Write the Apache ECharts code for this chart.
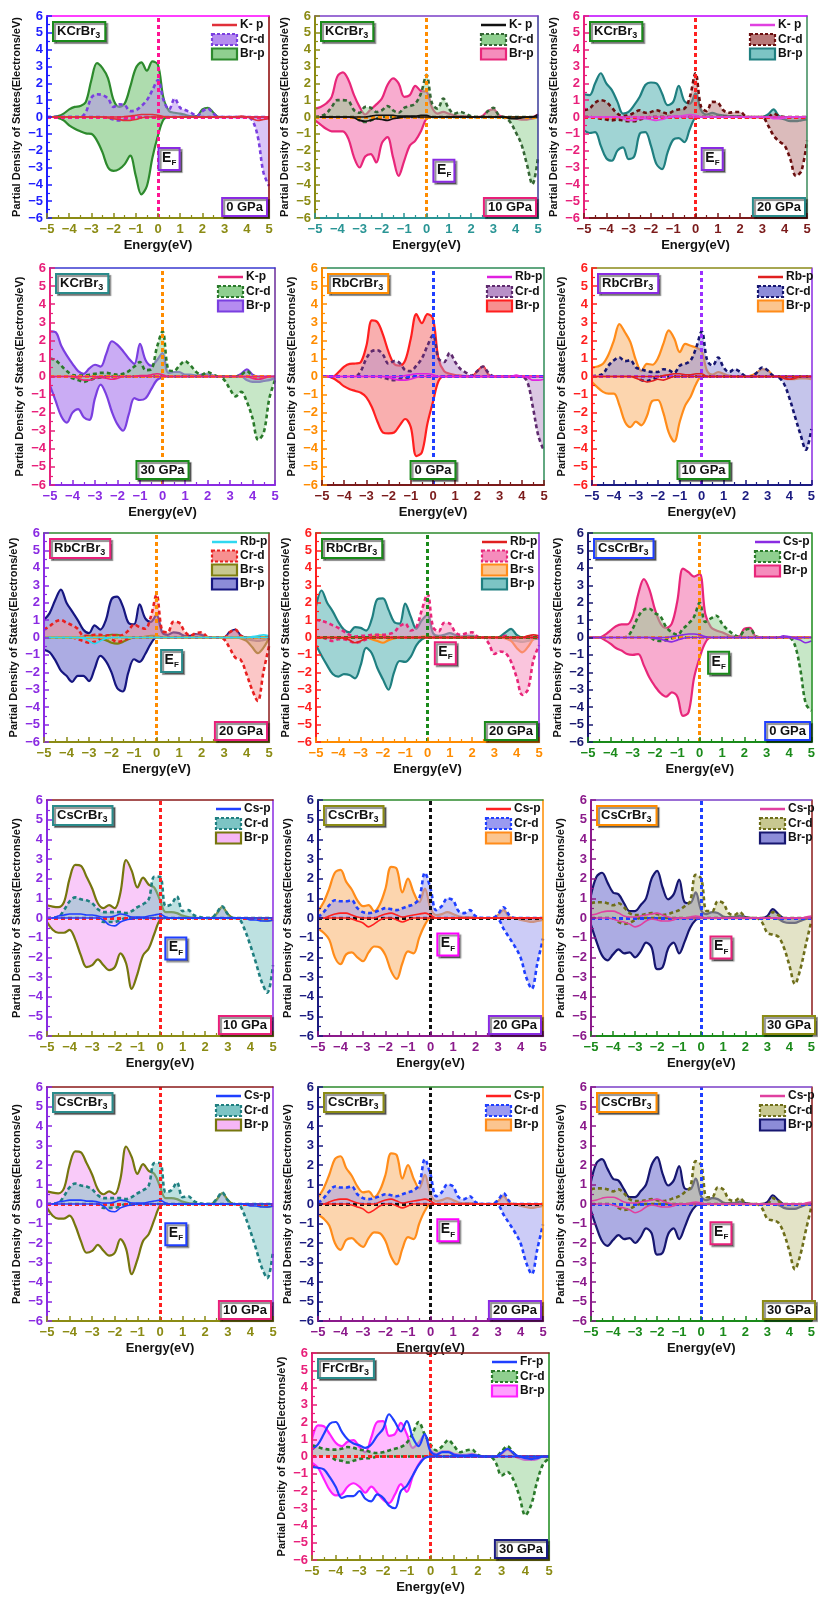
<!DOCTYPE html>
<html>
<head>
<meta charset="utf-8">
<script src="https://cdn.jsdelivr.net/npm/echarts/dist/echarts.min.js"></script>
<style>
html,body{margin:0;padding:0;background:#fff}
#chart{width:818px;height:1603px}
</style>
</head>
<body>
<div id="chart"></div>
<script>
// Energy grid (eV) shared by every PDOS curve
const energy = [-5,-4.75,-4.5,-4.25,-4,-3.75,-3.5,-3.25,-3,-2.75,-2.5,-2.25,-2,-1.75,-1.5,-1.25,-1,-0.75,-0.5,-0.25,0,0.25,0.5,0.75,1,1.25,1.5,1.75,2,2.25,2.5,2.75,3,3.25,3.5,3.75,4,4.25,4.5,4.75,5];
const energyTicks = ['\u22125','\u22124','\u22123','\u22122','\u22121','0','1','2','3','4','5'];
const dosTicks = ['\u22126','\u22125','\u22124','\u22123','\u22122','\u22121','0','1','2','3','4','5','6'];

// KCrBr3, 0 GPa
const K0_Kp_up  = [0,0,0,0,0,0,0,0,0, 0,0,0,0,0,0.02,0.05,0.1, 0.15,0.15,0.15,0.1,0.03,0,0,0, 0,0,0,0,0,0,0,0, 0,0,0.05,0,0,0,0,0];
const K0_Kp_dn  = [0,0,0,0,0,0,0,0,0, 0,0,-0.05,-0.1,-0.15,-0.2,-0.2,-0.15, -0.05,0,0,0,0,0,0,0, 0,0,0,0,0,0,0,0, 0,0,0,0,-0.1,-0.2,-0.15,-0.1];
const K0_Crd_up = [0,0,0,0,0,0,0,0.3,1.15, 1.35,1.3,1.1,0.6,0.75,0.7,0.35,0.4, 0.65,1.0,1.6,2.2,1.0,0.45,1.1,0.55, 0.4,0.25,0.05,0.35,0.5,0.2,0,0, 0,0,0,0,0,0,0,0];
const K0_Crd_dn = [0,0,0,0,0,0,0,0,0, 0,0,-0.05,-0.15,-0.2,-0.15,-0.1,-0.05, 0,0,0,0,0,0,0,0, 0,0,0,0,0,0,0,0, 0,0,0,0,-0.2,-1.2,-3.3,-4.1];
const K0_Brp_up = [0,0,0.05,0.2,0.45,0.6,0.65,0.9,2.2, 3.2,2.9,2.3,1.0,0.6,0.8,1.8,2.9, 3.25,2.75,3.3,3.1,1.1,0.35,0.25,0.2, 0.12,0.05,0.05,0.45,0.55,0.25,0,0, 0,0,0,0,0,0,0,0];
const K0_Brp_dn = [0,0,-0.05,-0.2,-0.5,-0.7,-0.85,-0.97,-1.0, -1.4,-2.1,-3.0,-3.2,-3.1,-2.8,-2.3,-3.5, -4.6,-4.1,-2.4,-1.1,-0.15,0,0,0, 0,0,0,0,0,0,0,0, 0,0,0,0,0,0,0,0];

// KCrBr3, 10 GPa
const K10_Kp_up  = [0,0,0,0,0,0,0,0,0, 0,0.05,0.1,0.1,0.1,0.1,0.05,0.05, 0.05,0.05,0.1,0.1,0,0,0,0, 0,0,0,0,0,0,0,0, 0,0,0,0,0,0,0,0.15];
const K10_Kp_dn  = [0,0,0,0,0,0,0,-0.05,-0.2, -0.25,-0.2,-0.1,-0.15,-0.2,-0.1,-0.05,0, 0,0,0,0,0,0,0,0, 0,0,0,0,0,0,0,0, 0,0,-0.1,-0.1,-0.05,0,0,0];
const K10_Crd_up = [0,0.05,0.2,0.6,1.0,1.0,0.95,0.4,0.25, 0.6,0.55,0.3,0.4,0.65,0.4,0.25,0.55, 0.65,0.8,1.4,2.5,0.8,0.5,1.1,0.5, 0.2,0.3,0.2,0.05,0,0,0.35,0.55, 0.1,0,0,0,0,0,0,0];
const K10_Crd_dn = [0,0,0,0,0,0,0,0,-0.2, -0.3,-0.2,-0.1,0,0,0,0,0, 0,0,0,0,0,0,0,0, 0,0,0,0,0,0,0,0, 0,-0.05,-0.3,-0.9,-1.6,-2.8,-4.0,-2.4];
const K10_Brp_up = [0.5,0.6,0.8,1.2,2.4,2.65,2.2,1.3,0.6, 0.15,0.45,0.75,1.1,1.9,2.3,2.0,1.2, 1.3,1.85,1.55,1.5,0.55,0.2,0.3,0.2, 0.1,0.05,0.05,0,0,0.05,0.35,0.45, 0.1,0,0,0,0,0,0,0.15];
const K10_Brp_dn = [-0.2,-0.45,-0.7,-0.85,-0.85,-0.85,-1.3,-2.4,-3.0, -2.35,-2.2,-2.7,-1.55,-1.2,-2.4,-3.5,-2.6, -1.7,-1.4,-0.85,-0.1,0,0,0,0, 0,0,0,0,0,0,0,0, 0,0,-0.05,-0.1,-0.15,-0.15,-0.1,0];

// KCrBr3, 20 GPa
const K20_Kp_up  = [0,0,0,0,0,0,0,0,0, 0,0,0,0,0,0,0,0.05, 0.05,0.1,0.15,0.1,0,0,0,0, 0,0,0,0,0,0,0,0, 0,0,0,0,0,0,0,0];
const K20_Kp_dn  = [0,0,0,0,0,0,0,-0.1,-0.2, -0.2,-0.1,-0.1,-0.15,-0.2,-0.15,-0.05,0, 0,0,0,0,0,0,0,0, 0,0,0,0,0,0,0,0, 0,-0.1,-0.1,-0.05,0,0,0,0];
const K20_Crd_up = [0.4,0.5,0.85,1.0,0.9,0.55,0.2,0.05,0.1, 0.25,0.4,0.25,0.3,0.4,0.3,0.2,0.35, 0.45,0.5,1.2,2.6,0.6,0.35,0.9,0.85, 0.4,0.25,0.3,0.3,0.05,0,0,0, 0,0.2,0.05,0,0,0,0,0];
const K20_Crd_dn = [0,0,-0.05,-0.1,-0.15,-0.2,-0.15,-0.2,-0.25, -0.25,-0.15,-0.05,0,0,0,0,0, 0,0,0,0,0,0,0,0, 0,0,0,0,0,0,0,0, -0.5,-1.1,-1.45,-1.7,-2.5,-3.5,-3.2,-1.4];
const K20_Brp_up = [1.35,1.3,2.0,2.6,2.0,1.6,0.9,0.2,0.3, 0.7,1.2,1.9,2.05,2.0,1.4,0.7,0.9, 1.85,0.95,0.8,1.4,0.4,0.15,0.25,0.15, 0.1,0.05,0.05,0.05,0,0,0,0, 0.15,0.45,0.05,0,0,0,0,0];
const K20_Brp_dn = [-0.8,-0.95,-0.9,-1.7,-2.45,-2.6,-2.0,-1.8,-2.5, -2.35,-1.0,-0.9,-1.7,-2.8,-3.1,-2.1,-1.35, -1.25,-1.5,-0.7,-0.05,0,0,0,0, 0,0,0,0,0,0,0,0, 0,0,-0.05,-0.15,-0.25,-0.25,-0.2,-0.15];

// KCrBr3, 30 GPa
const K30_Kp_up  = [0,0,0,0,0,0,0,0,0, 0,0,0,0,0,0,0,0.05, 0.05,0.1,0.15,0.1,0,0,0,0, 0,0,0,0,0,0,0,0, 0,0,0,0,0,0,0,0];
const K30_Kp_dn  = [0,0,0,0,0,-0.1,-0.2,-0.2,-0.1, -0.05,-0.1,-0.15,-0.1,0,0,0,0, 0,0,0,0,0,0,0,0, 0,0,0,0,0,0,0,0, 0,0,0,-0.1,-0.15,-0.1,0,0];
const K30_Crd_up = [1.0,0.9,0.6,0.3,0.08,0.05,0.05,0.1,0.15, 0.2,0.2,0.15,0.1,0.15,0.3,0.55,0.8, 0.35,0.4,1.6,2.5,0.4,0.3,0.6,0.85, 0.6,0.25,0.1,0.25,0.1,0,0,0, 0,0.1,0.3,0.05,0,0,0,0];
const K30_Crd_dn = [0,0,0,0,-0.1,-0.2,-0.3,-0.2,-0.1, -0.05,0,0,0,0,0,0,0, 0,0,0,0,0,0,0,0, 0,0,0,0,0,0,-0.2,-0.7, -1.1,-0.85,-1.4,-2.3,-3.5,-3.1,-1.2,-0.2];
const K30_Brp_up = [2.5,2.45,1.7,1.15,0.7,0.3,0.15,0.45,0.65, 0.55,1.25,1.95,1.75,1.4,1.0,0.7,1.8, 0.9,0.6,0.9,1.3,0.2,0.25,0.25,0.1, 0.1,0.05,0.1,0.12,0.05,0,0,0, 0,0.15,0.4,0.1,0,0,0,0];
const K30_Brp_dn = [-0.5,-1.35,-2.2,-2.55,-2.0,-1.8,-2.25,-2.4,-1.2, -0.45,-1.0,-1.95,-2.65,-3.0,-2.1,-1.2,-1.3, -1.2,-0.7,-0.2,-0.05,0,0,0,0, 0,0,0,0,0,0,0,0, 0,0,-0.2,-0.3,-0.3,-0.25,-0.2,-0.1];

// RbCrBr3, 0 GPa
const Rb0_Rbp_up = [0,0,0,0,0,0,0,0,0, 0,0,0,0,0,0,0.05,0.1, 0.15,0.15,0.15,0.1,0,0,0,0, 0,0,0,0,0,0,0,0, 0,0,0.08,0,0,0,0,0];
const Rb0_Rbp_dn = [0,0,0,0,0,0,0,0,0, 0,0,0,-0.05,-0.15,-0.2,-0.2,-0.15, -0.05,0,0,0,0,0,0,0, 0,0,0,0,0,0,0,0, 0,0,0,0,-0.05,-0.2,-0.2,-0.15];
const Rb0_Crd_up = [0,0,0,0,0,0,0,0.3,1.0, 1.4,1.45,1.2,0.7,0.85,0.75,0.35,0.3, 0.6,1.0,1.7,2.3,1.0,0.8,1.3,0.8, 0.4,0.2,0.05,0.3,0.55,0.2,0,0, 0,0,0,0,0,0,0,0];
const Rb0_Crd_dn = [0,0,0,0,0,0,0,0,0, 0,0,-0.05,-0.15,-0.2,-0.15,-0.1,-0.05, 0,0,0,0,0,0,0,0, 0,0,0,0,0,0,0,0, 0,0,0,0,-0.3,-1.7,-3.3,-4.1];
const Rb0_Brp_up = [0,0,0,0.25,0.55,0.7,0.72,0.8,1.7, 3.1,3.0,2.3,1.35,0.7,0.6,0.9,2.1, 3.45,2.95,3.45,3.2,0.95,0.3,0.15,0.08, 0.05,0.02,0.02,0.3,0.55,0.1,0,0, 0,0,0,0,0,0,0,0];
const Rb0_Brp_dn = [0,0,-0.1,-0.3,-0.55,-0.7,-0.8,-0.9,-1.15, -1.7,-2.5,-3.1,-3.15,-3.1,-2.7,-2.35,-2.8, -4.4,-4.2,-2.6,-1.4,-0.25,0,0,0, 0,0,0,0,0,0,0,0, 0,0,0,0,0,0,0,0];

// RbCrBr3, 10 GPa
const Rb10_Rbp_up = [0,0,0,0,0,0,0,0,0, 0,0,0,0,0.05,0.1,0.15,0.15, 0.1,0.1,0.15,0.15,0,0,0,0, 0,0,0,0,0,0,0,0, 0,0,0,0,0,0,0,0];
const Rb10_Rbp_dn = [0,0,0,0,0,0,0,0,-0.1, -0.2,-0.3,-0.25,-0.15,-0.2,-0.1,0,0, 0,0,0,0,0,0,0,0, 0,0,0,0,0,0,0,0, 0,0,-0.1,-0.15,-0.1,0,0,0];
const Rb10_Crd_up = [0,0.05,0.15,0.6,0.9,1.05,0.85,0.9,0.5, 0.4,0.3,0.25,0.25,0.4,0.35,0.2,0.6, 0.7,0.9,1.6,2.5,0.9,0.6,1.05,0.5, 0.25,0.4,0.25,0.02,0,0.2,0.5,0.35, 0.05,0,0,0,0,0,0,0];
const Rb10_Crd_dn = [0,0,0,0,0,0,0,0,0, -0.2,-0.25,-0.15,-0.05,0,0,0,0, 0,0,0,0,0,0,0,0, 0,0,0,0,0,0,0,0, 0,-0.05,-0.4,-1.2,-2.2,-3.2,-4.05,-2.9];
const Rb10_Brp_up = [0.5,0.55,0.7,1.2,2.0,2.9,2.45,1.9,0.9, 0.3,0.7,0.65,1.0,1.8,2.55,2.1,1.35, 1.8,1.7,1.6,1.4,0.3,0.1,0.25,0.15, 0.05,0.02,0,0,0.05,0.2,0.4,0.35, 0.05,0,0,0,0,0,0,0];
const Rb10_Brp_dn = [-0.3,-0.6,-0.85,-0.95,-0.95,-1.6,-2.5,-2.8,-2.5, -2.7,-2.2,-1.35,-1.3,-2.0,-3.1,-3.6,-2.5, -1.6,-1.1,-0.4,0,0,0,0,0, 0,0,0,0,0,0,0,0, 0,0,-0.1,-0.15,-0.15,-0.1,-0.1,-0.15];

// RbCrBr3, 20 GPa (first set)
const Rb20a_Rbp_up = [0,0,0,0,0,0,0,0,0, 0,0,0,0,0,0,0,0, 0,0,0,0,0,0,0,0, 0,0,0,0,0,0,0,0, 0,0,0,0,0.05,0.1,0.15,0.1];
const Rb20a_Rbp_dn = [0,0,0,0,0,0,0,-0.05,-0.2, -0.35,-0.2,-0.05,0,0,0,0,0, 0,0,0,0,0,0,0,0, 0,0,0,0,0,0,0,0, 0,0,0,0,0,0,0,0];
const Rb20a_Crd_up = [0.45,0.65,0.9,1.0,0.85,0.7,0.5,0.1,0.1, 0.15,0.15,0.1,0.15,0.1,0.15,0.4,0.75, 0.6,0.5,1.2,2.45,0.4,0.3,0.9,0.85, 0.35,0.1,0.25,0.3,0.05,0,0,0, 0.3,0.45,0.1,0,0,0,0,0];
const Rb20a_Crd_dn = [0,0,0,0,0,0,-0.1,-0.2,-0.3, -0.25,-0.1,0,-0.1,-0.25,-0.2,-0.05,0, 0,0,0,0,0,0,0,0, 0,0,0,0,0,0,0,-0.1, -0.6,-1.15,-1.3,-2.1,-3.0,-3.65,-2.0,-0.5];
const Rb20a_Brs_up = [0,0,0,0,0,0,0,0.05,0.1, 0.1,0.05,0.1,0.15,0.15,0.05,0,0, 0,0.05,0.1,0.1,0,0,0,0, 0,0,0,0,0,0,0,0, 0,0,0,0,0,0,0,0];
const Rb20a_Brs_dn = [0,0,0,0,0,0,0,0,0, 0,-0.05,-0.15,-0.3,-0.35,-0.25,-0.1,0, 0,0,0,0,0,0,0,0, 0,0,0,0,0,0,0,0, 0,0,-0.05,-0.2,-0.55,-0.9,-0.6,-0.05];
const Rb20a_Brp_up = [1.0,1.4,2.15,2.75,2.0,1.5,1.0,0.45,0.25, 0.7,0.45,1.0,2.2,2.35,1.8,0.85,0.75, 1.9,1.1,0.9,1.3,0.3,0.15,0.3,0.25, 0.1,0.1,0.2,0.15,0.02,0,0,0, 0.3,0.45,0.1,0,0,0,0,0];
const Rb20a_Brp_dn = [-0.7,-0.85,-1.3,-1.9,-2.2,-2.55,-2.2,-2.2,-2.5, -1.8,-1.05,-1.35,-2.0,-2.9,-3.1,-2.0,-1.25, -1.4,-0.95,-0.35,0,0,0,0,0, 0,0,0,0,0,0,0,0, 0,0,0,-0.1,-0.15,-0.2,-0.15,-0.1];

// RbCrBr3, 20 GPa (second set)
const Rb20b_Rbp_up = [0,0,0,0,0,0,0,0,0, 0,0,0,0,0,0,0,0, 0,0,0,0,0,0,0,0, 0,0,0,0,0,0,0,0, 0,0,0,0,0,0.1,0.15,0.1];
const Rb20b_Rbp_dn = [0,0,0,0,0,-0.05,-0.15,-0.3,-0.2, -0.05,0,0,0,0,0,0,0, 0,0,0,0,0,0,0,0, 0,0,0,0,0,0,0,0, 0,0,0,0,0,0,0,0];
const Rb20b_Crd_up = [1.0,0.95,0.85,0.7,0.55,0.35,0.15,0.05,0.1, 0.1,0.15,0.15,0.15,0.2,0.3,0.65,0.8, 0.4,0.6,1.6,2.5,0.6,0.35,0.85,0.8, 0.3,0.15,0.25,0.3,0.05,0,0,0, 0,0.1,0,0,0,0,0,0];
const Rb20b_Crd_dn = [0,0,-0.1,-0.2,-0.1,-0.1,-0.2,-0.3,-0.25, -0.1,0,0,0,0,0,0,0, 0,0,0,0,0,0,0,0, 0,0,0,0,0,0,-0.35,-0.95, -0.8,-0.9,-1.4,-2.3,-3.3,-3.0,-1.3,-0.45];
const Rb20b_Brs_up = [0,0,0,0,0,0,0,0,0, 0,0.05,0.15,0.1,0.05,0,0,0, 0,0,0.05,0.1,0,0,0,0, 0,0,0,0,0,0,0,0, 0,0,0,0,0,0,0,0];
const Rb20b_Brs_dn = [0,0,0,0,0,0,0,0,0, 0,-0.1,-0.2,-0.3,-0.15,-0.05,0,0, 0,0,0,0,0,0,0,0, 0,0,0,0,0,0,0,0, 0,-0.05,-0.2,-0.6,-0.85,-0.55,-0.1,0];
const Rb20b_Brp_up = [1.8,2.7,2.0,1.5,0.9,0.45,0.3,0.6,0.55, 0.4,1.05,2.2,2.25,1.6,0.9,0.8,1.95, 1.2,0.5,1.0,1.3,0.25,0.1,0.15,0.25, 0.15,0.05,0.1,0.1,0,0,0,0, 0.05,0.3,0.5,0.15,0,0,0,0];
const Rb20b_Brp_dn = [-0.45,-1.05,-1.6,-2.1,-2.25,-2.1,-2.15,-2.35,-1.6, -0.6,-0.9,-1.75,-2.4,-3.0,-2.0,-1.35,-1.4, -1.1,-0.45,-0.1,0,0,0,0,0, 0,0,0,0,0,0,0,0, 0,0,-0.15,-0.2,-0.25,-0.2,-0.1,-0.05];

// CsCrBr3, 0 GPa
const Cs0_Csp_up = [0,0,0,0,0,0,0,0,0, 0,0,0,0,0,0,0.05,0.1, 0.15,0.2,0.2,0.15,0.05,0,0,0, 0,0,0,0,0,0,0,0, 0,0,0.1,0.05,0,0,0,0];
const Cs0_Csp_dn = [0,0,0,0,0,0,0,0,0, 0,0,0,-0.05,-0.1,-0.2,-0.25,-0.15, -0.05,0,0,0,0,0,0,0, 0,0,0,0,0,0,0,0, 0,0,0,0,-0.05,-0.15,-0.3,-0.2];
const Cs0_Crd_up = [0,0,0,0,0,0,0,0.05,0.5, 1.2,1.6,1.65,1.4,1.2,0.6,0.3,0.15, 0.5,0.8,1.2,2.0,0.9,1.1,1.25,0.8, 0.45,0.2,0.05,0.4,0.5,0.1,0,0, 0,0,0,0,0,0,0,0];
const Cs0_Crd_dn = [0,0,0,0,0,0,0,0,0, 0,0,0,-0.15,-0.2,-0.15,-0.05,0, 0,0,0,0,0,0,0,0, 0,0,0,0,0,0,0,0, 0,0,0,0,-0.4,-1.8,-3.8,-4.2];
const Cs0_Brp_up = [0,0,0,0.15,0.4,0.65,0.75,0.75,1.2, 2.5,3.35,2.75,1.6,0.8,0.55,0.8,2.1, 3.95,3.75,3.5,3.65,1.35,0.6,0.4,0.3, 0.15,0.05,0.05,0.5,0.55,0.05,0,0, 0,0,0,0,0,0,0,0];
const Cs0_Brp_dn = [0,0,0,-0.15,-0.35,-0.6,-0.75,-0.95,-1.0, -0.95,-1.6,-2.3,-2.8,-3.2,-3.4,-3.15,-3.4, -4.5,-4.3,-2.3,-1.15,-0.3,0,0,0, 0,0,0,0,0,0,0,0, 0,0,0,0,0,0,0,0];

// CsCrBr3, 10 GPa
const Cs10_Csp_up = [0,0,0.1,0.15,0.2,0.2,0.2,0.15,0.15, 0.1,0.05,0.05,0.1,0.2,0.15,0.05,0.05, 0.05,0.1,0.15,0.2,0.05,0,0,0, 0,0,0,0,0,0,0,0, 0,0,0,0,0,0,0,0];
const Cs10_Csp_dn = [0,0,0,0,0,0,0,0,0, 0,-0.1,-0.35,-0.4,-0.2,-0.1,-0.05,0, 0,0,0,0,0,0,0,0, 0,0,0,0,0,0,0,0, 0,0,0,-0.1,-0.1,-0.15,-0.15,-0.1];
const Cs10_Crd_up = [0,0.02,0.05,0.4,0.85,1.05,0.95,0.9,0.75, 0.45,0.3,0.3,0.3,0.3,0.25,0.35,0.55, 0.7,0.95,2.1,2.1,0.6,0.7,1.1,0.35, 0.4,0.15,0.05,0,0,0.25,0.6,0.2, 0,0,0,0,0,0,0,0];
const Cs10_Crd_dn = [0,0,0,0,0,0,0,0,0, 0,-0.2,-0.2,-0.2,-0.1,0,0,0, 0,0,0,0,0,0,0,0, 0,0,0,0,0,0,0,0, 0,-0.05,-0.6,-1.4,-2.3,-3.25,-3.8,-2.4];
const Cs10_Brp_up = [0.65,0.58,0.55,0.8,2.0,2.7,2.65,2.1,1.5, 0.75,0.5,0.65,0.5,1.3,2.95,2.4,1.55, 2.05,1.7,1.55,0.9,0.3,0.3,0.25,0.12, 0.05,0.02,0,0,0,0.2,0.55,0.2, 0,0,0,0,0,0,0,0];
const Cs10_Brp_dn = [-0.2,-0.6,-0.75,-0.75,-0.6,-1.1,-1.9,-2.5,-2.4, -2.1,-2.4,-2.65,-2.5,-1.8,-2.3,-3.6,-2.85, -1.9,-1.55,-0.8,-0.1,0,0,0,0, 0,0,0,0,0,0,0,0, 0,0,0,0,0,-0.1,-0.15,-0.1];

// CsCrBr3, 20 GPa
const Cs20_Csp_up = [0,0,0.1,0.2,0.25,0.25,0.15,0.05,0, 0,0,0.1,0.2,0.25,0.15,0.05,0.1, 0.15,0.2,0.25,0.15,0,0,0,0, 0,0,0,0,0,0,0,0, 0,0,0,0,0,0,0,0];
const Cs20_Csp_dn = [0,0,0,0,0,0,-0.05,-0.15,-0.25, -0.45,-0.3,-0.1,0,0,-0.1,-0.2,-0.1, 0,0,0,0,0,0,0,0, 0,0,0,0,0,0,0,0, 0,0,0,0,0,0,0,0];
const Cs20_Crd_up = [0.05,0.3,0.65,0.9,0.85,0.85,0.9,0.5,0.3, 0.25,0.3,0.4,0.5,0.45,0.4,0.5,0.6, 0.7,1.0,2.3,1.5,0.4,0.6,1.0,0.9, 0.35,0.25,0.4,0.1,0,0,0,0.2, 0.55,0.15,0,0,0,0,0,0];
const Cs20_Crd_dn = [0,0,0,0,0,0,0,0,0, 0,0,0,0,0,0,0,0, 0,0,0,0,0,0,0,0, 0,0,0,0,0,0,0,-0.05, -0.55,-1.0,-1.45,-2.0,-3.0,-3.6,-2.3,-1.05];
const Cs20_Brp_up = [0.35,0.8,1.5,2.3,2.45,1.85,1.45,0.9,0.6, 0.65,0.35,0.7,1.5,2.6,2.5,1.3,2.0, 1.3,0.8,1.5,0.5,0.15,0.2,0.3,0.2, 0.08,0.05,0.05,0.02,0,0,0,0.15, 0.4,0.05,0,0,0,0,0,0];
const Cs20_Brp_dn = [-0.55,-0.75,-1.1,-2.0,-2.35,-1.85,-1.75,-2.0,-2.2, -1.75,-1.45,-1.5,-1.9,-2.7,-3.1,-2.3,-1.7, -1.8,-1.0,-0.35,0,0,0,0,0, 0,0,0,0,0,0,0,0, 0,0,0,-0.1,-0.15,-0.2,-0.15,-0.1];

// CsCrBr3, 30 GPa
const Cs30_Csp_up = [0.15,0.2,0.3,0.35,0.35,0.25,0.1,0.05,0.05, 0.1,0.15,0.2,0.25,0.15,0.05,0,0, 0,0.05,0.1,0.05,0,0,0,0, 0,0,0,0,0,0,0,0, 0,0,0,0,0,0,0.05,0.1];
const Cs30_Csp_dn = [0,0,0,0,-0.05,-0.15,-0.2,-0.3,-0.45, -0.35,-0.15,-0.05,-0.1,-0.15,-0.15,-0.1,0, 0,0,0,0,0,0,0,0, 0,0,0,0,0,0,0,0, 0,0,0,0,0,0,0,0];
const Cs30_Crd_up = [0.75,0.8,0.8,0.75,0.65,0.75,0.55,0.25,0.15, 0.15,0.2,0.25,0.2,0.15,0.2,0.3,0.4, 0.6,0.85,2.2,2.0,0.35,0.35,0.85,0.75, 0.25,0.15,0.3,0.05,0,0,0,0, 0.3,0.15,0,0,0,0,0,0];
const Cs30_Crd_dn = [0,0,0,0,0,-0.2,-0.3,-0.25,-0.1, 0,0,0,0,0,0,0,0, 0,0,0,0,0,0,0,0, 0,0,0,0,0,0,-0.2,-0.75, -0.85,-0.95,-1.5,-2.4,-3.35,-2.6,-1.35,-0.15];
const Cs30_Brp_up = [1.15,2.1,2.3,1.8,1.3,1.2,0.75,0.35,0.35, 0.65,1.0,2.0,2.4,1.55,0.95,1.2,1.95, 0.8,0.75,1.3,0.4,0.2,0.3,0.25,0.08, 0.05,0.05,0.12,0.05,0,0,0,0.1, 0.45,0.2,0,0,0,0,0,0];
const Cs30_Brp_dn = [-0.35,-1.2,-1.9,-2.15,-1.85,-1.6,-1.8,-1.75,-2.0, -1.7,-1.25,-1.5,-2.6,-2.5,-1.55,-1.25,-1.8, -1.2,-0.5,-0.1,0,0,0,0,0, 0,0,0,0,0,0,0,0, 0,-0.05,-0.2,-0.25,-0.25,-0.15,-0.05,0];

// FrCrBr3, 30 GPa
const Fr30_Frp_up = [0.4,0.7,1.3,1.9,2.0,1.45,1.0,0.75,0.65, 0.5,0.7,1.2,1.6,2.45,2.0,1.45,2.05, 1.1,0.6,1.3,0.3,0.1,0.25,0.25,0.1, 0.05,0.05,0.1,0.05,0,0,0,0.2, 0.45,0.2,0,0,0,0,0,0];
const Fr30_Frp_dn = [-0.6,-0.65,-0.75,-1.2,-1.75,-2.4,-2.3,-2.3,-2.0, -2.45,-2.6,-2.2,-2.4,-2.85,-3.0,-2.0,-1.7, -1.1,-0.5,-0.1,0,0,0,0,0, 0,0,0,0,0,0,0,0, 0,0,0,-0.1,-0.15,-0.1,0,0];
const Fr30_Crd_up = [0.65,0.55,0.45,0.4,0.4,0.45,0.55,0.5,0.4, 0.35,0.25,0.2,0.25,0.35,0.45,0.55,0.8, 1.35,2.0,1.3,0.7,0.35,0.6,0.95,0.6, 0.25,0.35,0.4,0.1,0,0,0,0.3, 0.6,0.2,0,0,0,0,0,0];
const Fr30_Crd_dn = [0,0,0,0,-0.2,-0.25,-0.35,-0.25,-0.15, -0.1,-0.1,0,0,0,0,0,0, 0,0,0,0,0,0,0,0, 0,0,0,0,0,0,-0.35,-1.1, -0.9,-1.35,-2.3,-3.4,-2.8,-1.45,-0.45,-0.1];
const Fr30_Brp_up = [1.0,1.8,1.75,1.3,0.8,0.6,0.85,0.95,0.55, 0.25,1.1,2.0,2.05,1.2,1.3,1.95,1.3, 0.5,0.8,1.25,0.4,0.15,0.3,0.3,0.15, 0.1,0.1,0.15,0.05,0,0,0,0.15, 0.4,0.15,0,0,0,0,0,0];
const Fr30_Brp_dn = [-0.35,-0.65,-1.3,-1.95,-2.25,-2.2,-1.75,-1.55,-1.75, -2.1,-1.75,-2.1,-2.5,-2.7,-2.2,-1.6,-2.05, -1.15,-0.45,-0.05,0,0,0,0,0, 0,0,0,0,0,0,0,0, 0,0,-0.1,-0.2,-0.2,-0.15,0,0];

// ---------- panel layout and styling ----------
const FONT = '"Liberation Sans", Arial, Helvetica, sans-serif';
const GREEN = '#1a8a1a', PURPLE = '#8a2be2', PINK = '#e8207a', TEAL = '#2a8b8b', OLIVE = '#8b8b14',
      ORANGE = '#ff8c00', NAVY = '#1a1a80', DRED = '#8b1a1a', BLUE = '#1f3fff', RED = '#ff2020';

function sp(name, up, dn, kind, c, f) { return { name, up, dn, kind, c, f }; }

const cs10 = { yc: PURPLE, xc: OLIVE, tc: DRED, rc: PURPLE, title: 'CsCrBr', titleC: TEAL, ef: RED,
  efBox: { x: 0.7, y: -1.55, c: BLUE }, pr: '10 GPa', prC: PINK, prMid: false,
  sp: [sp('Cs-p', Cs10_Csp_up, Cs10_Csp_dn, 'line', BLUE),
       sp('Cr-d', Cs10_Crd_up, Cs10_Crd_dn, 'dash', '#1f7f80', '#7cc4c4'),
       sp('Br-p', Cs10_Brp_up, Cs10_Brp_dn, 'fill', '#76760e', '#f6b6f6')] };
const cs20 = { yc: NAVY, xc: '#8b1a8b', tc: '#2e8b2e', rc: ORANGE, title: 'CsCrBr', titleC: OLIVE, ef: '#111',
  efBox: { x: 0.77, y: -1.35, c: '#ff00ff' }, pr: '20 GPa', prC: PURPLE, prMid: false,
  sp: [sp('Cs-p', Cs20_Csp_up, Cs20_Csp_dn, 'line', RED),
       sp('Cr-d', Cs20_Crd_up, Cs20_Crd_dn, 'dash', BLUE, '#9a9af0'),
       sp('Br-p', Cs20_Brp_up, Cs20_Brp_dn, 'fill', '#ff8c1a', '#fbc58f')] };
const cs30 = { yc: '#8b1a8b', xc: GREEN, tc: '#7b3fc8', rc: DRED, title: 'CsCrBr', titleC: ORANGE, ef: BLUE,
  efBox: { x: 0.75, y: -1.5, c: PINK }, pr: '30 GPa', prC: OLIVE, prMid: false,
  sp: [sp('Cs-p', Cs30_Csp_up, Cs30_Csp_dn, 'line', '#e040a0'),
       sp('Cr-d', Cs30_Crd_up, Cs30_Crd_dn, 'dash', '#6e6e1a', '#c8c890'),
       sp('Br-p', Cs30_Brp_up, Cs30_Brp_dn, 'fill', '#161670', '#8c8cd8')] };

const panels = [
  { L: 47, T: 16, R: 269, B: 218, yc: '#1f1fff', xc: OLIVE, tc: '#ff00ff', rc: '#8b0000', title: 'KCrBr', titleC: GREEN,
    ef: '#ff1493', efBox: { x: 0.5, y: -2.5, c: PURPLE }, pr: '0 GPa', prC: PURPLE, prMid: false,
    sp: [sp('K- p', K0_Kp_up, K0_Kp_dn, 'line', '#e0303a'),
         sp('Cr-d', K0_Crd_up, K0_Crd_dn, 'dash', '#7a3fe0', '#b58cf0'),
         sp('Br-p', K0_Brp_up, K0_Brp_dn, 'fill', '#2d8a2d', '#8fcf8f')] },
  { L: 315, T: 16, R: 538, B: 218, yc: OLIVE, xc: '#2a9595', tc: '#7b3fc8', rc: '#3a3a9a', title: 'KCrBr', titleC: GREEN,
    ef: ORANGE, efBox: { x: 0.78, y: -3.2, c: PURPLE }, pr: '10 GPa', prC: PINK, prMid: false,
    sp: [sp('K- p', K10_Kp_up, K10_Kp_dn, 'line', '#111'),
         sp('Cr-d', K10_Crd_up, K10_Crd_dn, 'dash', '#356635', '#8fcf8f'),
         sp('Br-p', K10_Brp_up, K10_Brp_dn, 'fill', '#e8267a', '#f58cbc')] },
  { L: 584, T: 16, R: 807, B: 218, yc: PINK, xc: '#7a1a1a', tc: '#c000ff', rc: '#3a8a5a', title: 'KCrBr', titleC: GREEN,
    ef: RED, efBox: { x: 0.75, y: -2.5, c: PURPLE }, pr: '20 GPa', prC: TEAL, prMid: false,
    sp: [sp('K- p', K20_Kp_up, K20_Kp_dn, 'line', '#e040e0'),
         sp('Cr-d', K20_Crd_up, K20_Crd_dn, 'dash', '#6b0f0f', '#b87878'),
         sp('Br-p', K20_Brp_up, K20_Brp_dn, 'fill', '#1f7f80', '#7cc4c4')] },
  { L: 50, T: 268, R: 275, B: 485, yc: PINK, xc: PURPLE, tc: '#3a3ad0', rc: '#6a2a9a', title: 'KCrBr', titleC: TEAL,
    ef: ORANGE, efBox: null, pr: '30 GPa', prC: GREEN, prMid: true,
    sp: [sp('K-p', K30_Kp_up, K30_Kp_dn, 'line', '#e8267a'),
         sp('Cr-d', K30_Crd_up, K30_Crd_dn, 'dash', '#2a7a2a', '#8fcf8f'),
         sp('Br-p', K30_Brp_up, K30_Brp_dn, 'fill', '#7a3fe0', '#b58cf0')] },
  { L: 322, T: 268, R: 544, B: 485, yc: ORANGE, xc: '#7a1a1a', tc: '#2e8b57', rc: '#2e8b57', title: 'RbCrBr', titleC: ORANGE,
    ef: BLUE, efBox: null, pr: '0 GPa', prC: GREEN, prMid: true,
    sp: [sp('Rb-p', Rb0_Rbp_up, Rb0_Rbp_dn, 'line', '#e020e0'),
         sp('Cr-d', Rb0_Crd_up, Rb0_Crd_dn, 'dash', '#5e2a6e', '#b890c8'),
         sp('Br-p', Rb0_Brp_up, Rb0_Brp_dn, 'fill', '#ff1f1f', '#f79090')] },
  { L: 592, T: 268, R: 815, B: 485, yc: RED, xc: NAVY, tc: '#8b8b1a', rc: PURPLE, title: 'RbCrBr', titleC: PURPLE,
    ef: '#9b30ff', efBox: null, pr: '10 GPa', prC: GREEN, prMid: true,
    sp: [sp('Rb-p', Rb10_Rbp_up, Rb10_Rbp_dn, 'line', '#e02020'),
         sp('Cr-d', Rb10_Crd_up, Rb10_Crd_dn, 'dash', '#161670', '#8c8cd8'),
         sp('Br-p', Rb10_Brp_up, Rb10_Brp_dn, 'fill', '#ff8c1a', '#fbc58f')] },
  { L: 44, T: 533, R: 269, B: 742, yc: PURPLE, xc: OLIVE, tc: '#2e8b2e', rc: DRED, title: 'RbCrBr', titleC: PINK,
    ef: ORANGE, efBox: { x: 0.67, y: -1.35, c: TEAL }, pr: '20 GPa', prC: PINK, prMid: false,
    sp: [sp('Rb-p', Rb20a_Rbp_up, Rb20a_Rbp_dn, 'line', '#30d8f0'),
         sp('Cr-d', Rb20a_Crd_up, Rb20a_Crd_dn, 'dash', '#e82020', '#f79090'),
         sp('Br-s', Rb20a_Brs_up, Rb20a_Brs_dn, 'fill2', '#7f7f10', '#c8c890'),
         sp('Br-p', Rb20a_Brp_up, Rb20a_Brp_dn, 'fill', '#161680', '#8c8cd8')] },
  { L: 316, T: 533, R: 539, B: 742, yc: RED, xc: ORANGE, tc: '#2e8b2e', rc: PURPLE, title: 'RbCrBr', titleC: GREEN,
    ef: GREEN, efBox: { x: 0.8, y: -0.9, c: PINK }, pr: '20 GPa', prC: GREEN, prMid: false,
    sp: [sp('Rb-p', Rb20b_Rbp_up, Rb20b_Rbp_dn, 'line', '#e02020'),
         sp('Cr-d', Rb20b_Crd_up, Rb20b_Crd_dn, 'dash', '#e8267a', '#f58cbc'),
         sp('Br-s', Rb20b_Brs_up, Rb20b_Brs_dn, 'fill2', '#ff8c1a', '#fbc58f'),
         sp('Br-p', Rb20b_Brp_up, Rb20b_Brp_dn, 'fill', '#1f7f80', '#7cc4c4')] },
  { L: 588, T: 533, R: 812, B: 742, yc: '#1a1a70', xc: GREEN, tc: '#2e8b2e', rc: GREEN, title: 'CsCrBr', titleC: BLUE,
    ef: ORANGE, efBox: { x: 0.83, y: -1.45, c: GREEN }, pr: '0 GPa', prC: BLUE, prMid: false,
    sp: [sp('Cs-p', Cs0_Csp_up, Cs0_Csp_dn, 'line', PURPLE),
         sp('Cr-d', Cs0_Crd_up, Cs0_Crd_dn, 'dash', '#2a7a2a', '#8fcf8f'),
         sp('Br-p', Cs0_Brp_up, Cs0_Brp_dn, 'fill', '#e8267a', '#f58cbc')] },
  Object.assign({ L: 47, T: 800, R: 273, B: 1036 }, cs10),
  Object.assign({ L: 318, T: 800, R: 543, B: 1036 }, cs20),
  Object.assign({ L: 591, T: 800, R: 817, B: 1036 }, cs30),
  Object.assign({ L: 47, T: 1087, R: 273, B: 1321 }, cs10),
  Object.assign({ L: 318, T: 1087, R: 543, B: 1321 }, cs20),
  Object.assign({ L: 591, T: 1087, R: 817, B: 1321 }, cs30),
  { L: 312, T: 1353, R: 549, B: 1560, yc: PINK, xc: OLIVE, tc: DRED, rc: GREEN, title: 'FrCrBr', titleC: TEAL,
    ef: RED, efBox: null, pr: '30 GPa', prC: NAVY, prMid: false,
    sp: [sp('Fr-p', Fr30_Frp_up, Fr30_Frp_dn, 'line', BLUE),
         sp('Cr-d', Fr30_Crd_up, Fr30_Crd_dn, 'dash', '#2a7a2a', '#8fcf8f'),
         sp('Br-p', Fr30_Brp_up, Fr30_Brp_dn, 'fill', '#ff20ff', '#ffa0ff')] }
];

const KIND = {
  line:  { z: 5, width: 1.6, type: 'solid', opacity: 0 },
  dash:  { z: 4, width: 2.6, type: [4, 3], opacity: 0.5 },
  fill2: { z: 3, width: 2.2, type: 'solid', opacity: 0.65 },
  fill:  { z: 2, width: 2.2, type: 'solid', opacity: 0.72 }
};

const measureCtx = document.createElement('canvas').getContext('2d');
function textW(t, f) { measureCtx.font = f; return measureCtx.measureText(t).width; }

const grids = [], xAxes = [], yAxes = [], series = [], graphics = [];
const shadow = { shadowColor: 'rgba(0,0,0,0.45)', shadowOffsetX: 2, shadowOffsetY: 2, shadowBlur: 1 };

panels.forEach((p, gi) => {
  grids.push({ left: p.L, top: p.T, width: p.R - p.L, height: p.B - p.T, containLabel: false });
  const ax = (color) => ({
    axisLine: { show: true, onZero: false, lineStyle: { color, width: 2 } },
    axisTick: { show: true, inside: true, length: 5, lineStyle: { color, width: 1.5 } },
    minorTick: { show: true, splitNumber: 2, length: 3, lineStyle: { color, width: 1.2 } },
    splitLine: { show: false }, minorSplitLine: { show: false }, z: 10
  });
  xAxes.push(Object.assign(ax(p.xc), {
    gridIndex: gi, type: 'value', min: -5, max: 5, interval: 1, position: 'bottom',
    axisLabel: { color: p.xc, fontFamily: FONT, fontWeight: 'bold', fontSize: 13, margin: 5,
      formatter: v => energyTicks[Math.round(v + 5)] },
    name: 'Energy(eV)', nameLocation: 'middle', nameGap: 21,
    nameTextStyle: { color: '#111', fontFamily: FONT, fontWeight: 'bold', fontSize: 13, verticalAlign: 'top' }
  }));
  xAxes.push({ gridIndex: gi, type: 'value', min: -5, max: 5, position: 'top',
    axisLine: { show: true, onZero: false, lineStyle: { color: p.tc, width: 1.5 } },
    axisTick: { show: false }, axisLabel: { show: false }, splitLine: { show: false }, z: 10 });
  yAxes.push(Object.assign(ax(p.yc), {
    gridIndex: gi, type: 'value', min: -6, max: 6, interval: 1, position: 'left',
    axisLabel: { color: p.yc, fontFamily: FONT, fontWeight: 'bold', fontSize: 13, margin: 4,
      formatter: v => dosTicks[Math.round(v + 6)] },
    name: 'Partial Density of States(Electrons/eV)', nameLocation: 'middle', nameGap: 25, nameRotate: 90,
    nameTextStyle: { color: '#111', fontFamily: FONT, fontWeight: 'bold', fontSize: 11 }
  }));
  yAxes.push({ gridIndex: gi, type: 'value', min: -6, max: 6, position: 'right',
    axisLine: { show: true, onZero: false, lineStyle: { color: p.rc, width: 1.5 } },
    axisTick: { show: false }, axisLabel: { show: false }, splitLine: { show: false }, z: 10 });

  // PDOS curves: spin-up above zero, spin-down below zero
  p.sp.forEach(s => {
    const k = KIND[s.kind];
    const width = (s.kind === 'line' && s.name === 'Fr-p') ? 2.2 : k.width;
    [s.up, s.dn].forEach(arr => {
      series.push({
        type: 'line', xAxisIndex: 2 * gi, yAxisIndex: 2 * gi, silent: true, z: k.z,
        data: energy.map((e, i) => [e, arr[i]]), smooth: 0.35, symbol: 'none',
        lineStyle: { color: s.c, width, type: k.type },
        areaStyle: s.kind === 'line' ? null : { color: s.f, opacity: k.opacity }
      });
    });
  });

  // Fermi level and zero reference
  series.push({
    type: 'line', xAxisIndex: 2 * gi, yAxisIndex: 2 * gi, silent: true, z: 6,
    data: [[0, 0]], symbol: 'none', lineStyle: { width: 0 },
    markLine: { silent: true, symbol: 'none', label: { show: false }, animation: false,
      lineStyle: { color: p.ef, width: 3, type: [4, 3] },
      data: [{ xAxis: 0 }, { yAxis: 0 }] }
  });

  const px = x => p.L + (x + 5) / 10 * (p.R - p.L);
  const py = y => p.T + (6 - y) / 12 * (p.B - p.T);

  // compound label box
  const tf = 'bold 13px ' + FONT, sf = 'bold 9px ' + FONT;
  const w1 = textW(p.title, tf), w2 = textW('3', sf);
  const bx = p.L + 6, by = p.T + 6, bw = w1 + w2 + 9, bh = 19;
  graphics.push({ type: 'rect', z: 20, shape: { x: bx, y: by, width: bw, height: bh },
    style: Object.assign({ fill: '#fff', stroke: p.titleC, lineWidth: 2 }, shadow) });
  graphics.push({ type: 'text', z: 21, x: bx + 4, y: by + bh / 2,
    style: { text: p.title, font: tf, fill: '#111', textVerticalAlign: 'middle' } });
  graphics.push({ type: 'text', z: 21, x: bx + 4 + w1, y: by + bh / 2 + 4,
    style: { text: '3', font: sf, fill: '#111', textVerticalAlign: 'middle' } });

  // legend
  const lf = 'bold 12px ' + FONT;
  const step = p.sp.length > 3 ? 14 : 14.5;
  p.sp.forEach((s, i) => {
    const y = p.T + 9 + i * step;
    const x0 = p.R - 57, x1 = p.R - 32;
    if (s.kind === 'line') {
      graphics.push({ type: 'line', z: 21, shape: { x1: x0, y1: y, x2: x1, y2: y },
        style: { stroke: s.c, lineWidth: 2.5 } });
    } else {
      graphics.push({ type: 'rect', z: 21, shape: { x: x0, y: y - 5.5, width: x1 - x0, height: 11 },
        style: { fill: s.f, opacity: 1, stroke: s.c, lineWidth: 2.2,
          lineDash: s.kind === 'dash' ? [3, 2] : null } });
      graphics.push({ type: 'rect', z: 20, shape: { x: x0, y: y - 5.5, width: x1 - x0, height: 11 },
        style: { fill: '#fff' } });
    }
    graphics.push({ type: 'text', z: 21, x: p.R - 29, y: y,
      style: { text: s.name, font: lf, fill: '#111', textVerticalAlign: 'middle' } });
  });

  // pressure box
  const pf = 'bold 13px ' + FONT;
  const pw = textW(p.pr, pf) + 8, ph = 18;
  const pxL = p.prMid ? px(0) - pw / 2 : p.R - 2 - pw;
  const pyT = p.prMid ? p.B - 6 - ph : p.B - 2 - ph;
  graphics.push({ type: 'rect', z: 20, shape: { x: pxL, y: pyT, width: pw, height: ph },
    style: Object.assign({ fill: '#fff', stroke: p.prC, lineWidth: 2 }, shadow) });
  graphics.push({ type: 'text', z: 21, x: pxL + pw / 2, y: pyT + ph / 2 + 0.5,
    style: { text: p.pr, font: pf, fill: '#111', textAlign: 'center', textVerticalAlign: 'middle' } });

  // Fermi-level tag
  if (p.efBox) {
    const cx = px(p.efBox.x), cy = py(p.efBox.y);
    graphics.push({ type: 'rect', z: 20, shape: { x: cx - 10.5, y: cy - 11, width: 21, height: 22 },
      style: Object.assign({ fill: '#fff', stroke: p.efBox.c, lineWidth: 2 }, shadow) });
    graphics.push({ type: 'text', z: 21, x: cx - 7, y: cy - 1,
      style: { text: 'E', font: 'bold 14px ' + FONT, fill: '#111', textVerticalAlign: 'middle' } });
    graphics.push({ type: 'text', z: 21, x: cx + 2.5, y: cy + 4,
      style: { text: 'F', font: 'bold 8px ' + FONT, fill: '#111', textVerticalAlign: 'middle' } });
  }
});

const chart = echarts.init(document.getElementById('chart'), null, { renderer: 'canvas' });
chart.setOption({
  animation: false,
  backgroundColor: '#fff',
  textStyle: { fontFamily: FONT },
  grid: grids, xAxis: xAxes, yAxis: yAxes, series: series,
  graphic: { elements: graphics }
});
</script>
</body>
</html>
